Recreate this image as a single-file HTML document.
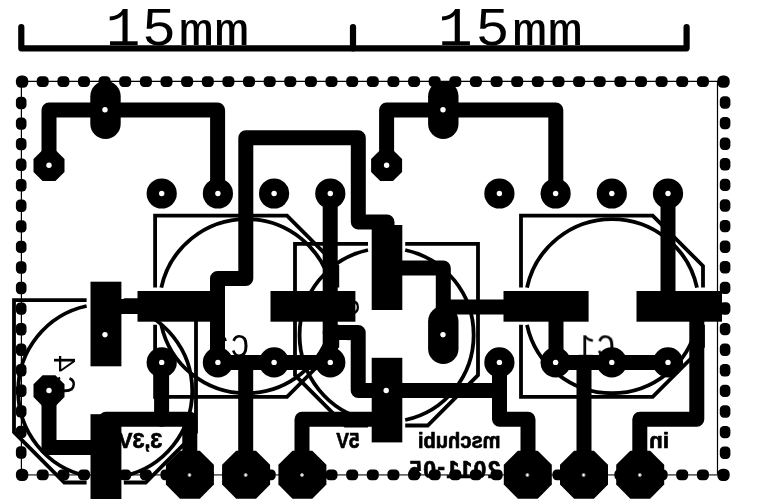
<!DOCTYPE html>
<html><head><meta charset="utf-8"><title>PCB</title>
<style>html,body{margin:0;padding:0;background:#fff}svg{display:block}
text{fill:#000}
.m{font-family:"Liberation Mono","DejaVu Sans Mono",monospace}
.b{font-family:"Liberation Sans","DejaVu Sans",sans-serif;font-weight:bold;stroke:#000;stroke-width:.7px;stroke-linejoin:round}
.g{opacity:.999}
</style></head><body>
<svg width="764" height="499" viewBox="0 0 764 499">
<rect width="764" height="499" fill="#fff"/>
<g fill="none" stroke="#000" stroke-width="6.2" stroke-linecap="round" stroke-linejoin="round">
<polyline points="21.3,27.0 21.3,48.3 686.6,48.3 686.6,27.0" />
<polyline points="353.0,27.0 353.0,48.3" />
</g>
<text class="m" y="45"><tspan x="105.5" font-size="54" textLength="35" lengthAdjust="spacingAndGlyphs">1</tspan><tspan x="142.0" font-size="54" textLength="34" lengthAdjust="spacingAndGlyphs">5</tspan><tspan x="178.5" font-size="47" textLength="71" lengthAdjust="spacingAndGlyphs">mm</tspan></text>
<text class="m" y="45"><tspan x="437.8" font-size="54" textLength="35" lengthAdjust="spacingAndGlyphs">1</tspan><tspan x="475.5" font-size="54" textLength="34" lengthAdjust="spacingAndGlyphs">5</tspan><tspan x="512.0" font-size="47" textLength="71" lengthAdjust="spacingAndGlyphs">mm</tspan></text>
<path d="M21.4 474.8V81.3H717.5V474.8" fill="none" stroke="#000" stroke-width="1.2"/>
<path d="M21.4 474.8H717.5" fill="none" stroke="#666" stroke-width="1.8"/>
<g fill="#000">
<rect x="15.9" y="75.6" width="12.4" height="12.2" rx="5.2"/>
<rect x="15.9" y="468.8" width="12.4" height="12.2" rx="5.2"/>
<rect x="36.7" y="76.2" width="12.0" height="10.8" rx="4.2"/>
<rect x="36.7" y="469.4" width="12.0" height="10.8" rx="4.2"/>
<rect x="57.4" y="76.2" width="12.0" height="10.8" rx="4.2"/>
<rect x="57.4" y="469.4" width="12.0" height="10.8" rx="4.2"/>
<rect x="78.0" y="76.2" width="12.0" height="10.8" rx="4.2"/>
<rect x="78.0" y="469.4" width="12.0" height="10.8" rx="4.2"/>
<rect x="98.6" y="76.2" width="12.0" height="10.8" rx="4.2"/>
<rect x="98.6" y="469.4" width="12.0" height="10.8" rx="4.2"/>
<rect x="119.2" y="76.2" width="12.0" height="10.8" rx="4.2"/>
<rect x="119.2" y="469.4" width="12.0" height="10.8" rx="4.2"/>
<rect x="139.9" y="76.2" width="12.0" height="10.8" rx="4.2"/>
<rect x="139.9" y="469.4" width="12.0" height="10.8" rx="4.2"/>
<rect x="160.5" y="76.2" width="12.0" height="10.8" rx="4.2"/>
<rect x="160.5" y="469.4" width="12.0" height="10.8" rx="4.2"/>
<rect x="181.1" y="76.2" width="12.0" height="10.8" rx="4.2"/>
<rect x="181.1" y="469.4" width="12.0" height="10.8" rx="4.2"/>
<rect x="201.8" y="76.2" width="12.0" height="10.8" rx="4.2"/>
<rect x="201.8" y="469.4" width="12.0" height="10.8" rx="4.2"/>
<rect x="222.4" y="76.2" width="12.0" height="10.8" rx="4.2"/>
<rect x="222.4" y="469.4" width="12.0" height="10.8" rx="4.2"/>
<rect x="243.0" y="76.2" width="12.0" height="10.8" rx="4.2"/>
<rect x="243.0" y="469.4" width="12.0" height="10.8" rx="4.2"/>
<rect x="263.7" y="76.2" width="12.0" height="10.8" rx="4.2"/>
<rect x="263.7" y="469.4" width="12.0" height="10.8" rx="4.2"/>
<rect x="284.3" y="76.2" width="12.0" height="10.8" rx="4.2"/>
<rect x="284.3" y="469.4" width="12.0" height="10.8" rx="4.2"/>
<rect x="304.9" y="76.2" width="12.0" height="10.8" rx="4.2"/>
<rect x="304.9" y="469.4" width="12.0" height="10.8" rx="4.2"/>
<rect x="325.5" y="76.2" width="12.0" height="10.8" rx="4.2"/>
<rect x="325.5" y="469.4" width="12.0" height="10.8" rx="4.2"/>
<rect x="346.2" y="76.2" width="12.0" height="10.8" rx="4.2"/>
<rect x="346.2" y="469.4" width="12.0" height="10.8" rx="4.2"/>
<rect x="366.8" y="76.2" width="12.0" height="10.8" rx="4.2"/>
<rect x="366.8" y="469.4" width="12.0" height="10.8" rx="4.2"/>
<rect x="387.4" y="76.2" width="12.0" height="10.8" rx="4.2"/>
<rect x="387.4" y="469.4" width="12.0" height="10.8" rx="4.2"/>
<rect x="408.1" y="76.2" width="12.0" height="10.8" rx="4.2"/>
<rect x="408.1" y="469.4" width="12.0" height="10.8" rx="4.2"/>
<rect x="428.7" y="76.2" width="12.0" height="10.8" rx="4.2"/>
<rect x="428.7" y="469.4" width="12.0" height="10.8" rx="4.2"/>
<rect x="449.3" y="76.2" width="12.0" height="10.8" rx="4.2"/>
<rect x="449.3" y="469.4" width="12.0" height="10.8" rx="4.2"/>
<rect x="469.9" y="76.2" width="12.0" height="10.8" rx="4.2"/>
<rect x="469.9" y="469.4" width="12.0" height="10.8" rx="4.2"/>
<rect x="490.6" y="76.2" width="12.0" height="10.8" rx="4.2"/>
<rect x="490.6" y="469.4" width="12.0" height="10.8" rx="4.2"/>
<rect x="511.2" y="76.2" width="12.0" height="10.8" rx="4.2"/>
<rect x="511.2" y="469.4" width="12.0" height="10.8" rx="4.2"/>
<rect x="531.8" y="76.2" width="12.0" height="10.8" rx="4.2"/>
<rect x="531.8" y="469.4" width="12.0" height="10.8" rx="4.2"/>
<rect x="552.5" y="76.2" width="12.0" height="10.8" rx="4.2"/>
<rect x="552.5" y="469.4" width="12.0" height="10.8" rx="4.2"/>
<rect x="573.1" y="76.2" width="12.0" height="10.8" rx="4.2"/>
<rect x="573.1" y="469.4" width="12.0" height="10.8" rx="4.2"/>
<rect x="593.7" y="76.2" width="12.0" height="10.8" rx="4.2"/>
<rect x="593.7" y="469.4" width="12.0" height="10.8" rx="4.2"/>
<rect x="614.4" y="76.2" width="12.0" height="10.8" rx="4.2"/>
<rect x="614.4" y="469.4" width="12.0" height="10.8" rx="4.2"/>
<rect x="635.0" y="76.2" width="12.0" height="10.8" rx="4.2"/>
<rect x="635.0" y="469.4" width="12.0" height="10.8" rx="4.2"/>
<rect x="655.6" y="76.2" width="12.0" height="10.8" rx="4.2"/>
<rect x="655.6" y="469.4" width="12.0" height="10.8" rx="4.2"/>
<rect x="676.2" y="76.2" width="12.0" height="10.8" rx="4.2"/>
<rect x="676.2" y="469.4" width="12.0" height="10.8" rx="4.2"/>
<rect x="696.9" y="76.2" width="12.0" height="10.8" rx="4.2"/>
<rect x="696.9" y="469.4" width="12.0" height="10.8" rx="4.2"/>
<rect x="717.3" y="75.6" width="12.4" height="12.2" rx="5.2"/>
<rect x="717.3" y="468.8" width="12.4" height="12.2" rx="5.2"/>
<rect x="15.9" y="96.8" width="10.6" height="12.4" rx="4.2"/>
<rect x="719.8" y="96.3" width="10.6" height="12.4" rx="4.2"/>
<rect x="15.9" y="117.4" width="10.6" height="12.4" rx="4.2"/>
<rect x="719.8" y="116.9" width="10.6" height="12.4" rx="4.2"/>
<rect x="15.9" y="137.9" width="10.6" height="12.4" rx="4.2"/>
<rect x="719.8" y="137.5" width="10.6" height="12.4" rx="4.2"/>
<rect x="15.9" y="158.5" width="10.6" height="12.4" rx="4.2"/>
<rect x="719.8" y="158.1" width="10.6" height="12.4" rx="4.2"/>
<rect x="15.9" y="179.0" width="10.6" height="12.4" rx="4.2"/>
<rect x="719.8" y="178.7" width="10.6" height="12.4" rx="4.2"/>
<rect x="15.9" y="199.6" width="10.6" height="12.4" rx="4.2"/>
<rect x="719.8" y="199.3" width="10.6" height="12.4" rx="4.2"/>
<rect x="15.9" y="220.2" width="10.6" height="12.4" rx="4.2"/>
<rect x="719.8" y="219.9" width="10.6" height="12.4" rx="4.2"/>
<rect x="15.9" y="240.7" width="10.6" height="12.4" rx="4.2"/>
<rect x="719.8" y="240.5" width="10.6" height="12.4" rx="4.2"/>
<rect x="15.9" y="261.3" width="10.6" height="12.4" rx="4.2"/>
<rect x="719.8" y="261.1" width="10.6" height="12.4" rx="4.2"/>
<rect x="15.9" y="281.8" width="10.6" height="12.4" rx="4.2"/>
<rect x="719.8" y="281.7" width="10.6" height="12.4" rx="4.2"/>
<rect x="15.9" y="302.4" width="10.6" height="12.4" rx="4.2"/>
<rect x="719.8" y="302.3" width="10.6" height="12.4" rx="4.2"/>
<rect x="15.9" y="323.0" width="10.6" height="12.4" rx="4.2"/>
<rect x="719.8" y="322.9" width="10.6" height="12.4" rx="4.2"/>
<rect x="15.9" y="343.5" width="10.6" height="12.4" rx="4.2"/>
<rect x="719.8" y="343.5" width="10.6" height="12.4" rx="4.2"/>
<rect x="15.9" y="364.1" width="10.6" height="12.4" rx="4.2"/>
<rect x="719.8" y="364.1" width="10.6" height="12.4" rx="4.2"/>
<rect x="15.9" y="384.6" width="10.6" height="12.4" rx="4.2"/>
<rect x="719.8" y="384.7" width="10.6" height="12.4" rx="4.2"/>
<rect x="15.9" y="405.2" width="10.6" height="12.4" rx="4.2"/>
<rect x="719.8" y="405.3" width="10.6" height="12.4" rx="4.2"/>
<rect x="15.9" y="425.8" width="10.6" height="12.4" rx="4.2"/>
<rect x="719.8" y="425.9" width="10.6" height="12.4" rx="4.2"/>
<rect x="15.9" y="446.3" width="10.6" height="12.4" rx="4.2"/>
<rect x="719.8" y="446.5" width="10.6" height="12.4" rx="4.2"/>
</g>
<g fill="none" stroke="#000" stroke-linejoin="miter">
<polyline points="155.1,287.6 155.1,215.7 287.0,215.7 337.3,266.0 337.3,287.6" stroke-width="3.8"/>
<polyline points="155.1,324.8 155.1,396.8 287.0,396.8 337.3,346.5 337.3,324.8" stroke-width="3.8"/>
<path d="M161.3 287.6A87 87 0 0 1 331.3 287.6" stroke-width="3.8"/>
<path d="M161.3 324.8A87 87 0 0 0 331.3 324.8" stroke-width="3.8"/>
<polyline points="521.0,287.6 521.0,215.7 652.7,215.7 703.0,266.0 703.0,287.6" stroke-width="3.8"/>
<polyline points="521.0,324.8 521.0,396.8 652.7,396.8 703.0,346.5 703.0,324.8" stroke-width="3.8"/>
<path d="M527.0 287.6A87 87 0 0 1 697.0 287.6" stroke-width="3.8"/>
<path d="M527.0 324.8A87 87 0 0 0 697.0 324.8" stroke-width="3.8"/>
<polyline points="368.0,243.8 295.0,243.8 295.0,375.2 345.3,425.5 368.0,425.5" stroke-width="3.8"/>
<polyline points="405.2,243.8 478.0,243.8 478.0,375.2 427.7,425.5 405.2,425.5" stroke-width="3.8"/>
<path d="M368.0 250.0A87 87 0 0 0 368.0 420.0" stroke-width="3.8"/>
<path d="M405.2 250.0A87 87 0 0 1 405.2 420.0" stroke-width="3.8"/>
<polyline points="86.6,300.2 14.0,300.2 14.0,432.2 64.3,482.5 86.6,482.5" stroke-width="3.8"/>
<polyline points="123.8,300.2 196.0,300.2 196.0,432.2 145.7,482.5 123.8,482.5" stroke-width="3.8"/>
<path d="M86.6 306.0A87 87 0 0 0 86.6 476.0" stroke-width="3.8"/>
<path d="M123.8 306.0A87 87 0 0 1 123.8 476.0" stroke-width="3.8"/>
</g>
<g class="g m" font-size="31">
<text transform="matrix(-1,0,0,1.1,615.2,357)">C<tspan dx="1.5">1</tspan></text>
<text transform="matrix(-1,0,0,1.1,249.3,357)">C<tspan dx="1.5">2</tspan></text>
<text transform="matrix(0,-1,-1,0,54,394)">C<tspan dx="2.4">4</tspan></text>
<text transform="matrix(0,-1,-1,0,338,342)">C<tspan dx="6.9">3</tspan></text>
</g>
<g fill="#000">
<rect x="137.5" y="291.0" width="84.6" height="30.7" />
<rect x="270.5" y="291.0" width="84.9" height="30.7" />
<rect x="503.5" y="291.0" width="85.1" height="30.7" />
<rect x="636.5" y="291.0" width="85.5" height="30.7" />
<rect x="90.5" y="281.7" width="30.9" height="84.6" />
<rect x="90.5" y="414.2" width="30.9" height="84.8" />
<rect x="371.7" y="225.0" width="30.6" height="85.0" />
<rect x="371.7" y="357.8" width="30.6" height="84.6" />
</g>
<g fill="none" stroke="#000" stroke-width="15" stroke-linecap="round" stroke-linejoin="round">
<polyline points="49.0,165.3 49.0,110.0 217.6,110.0 217.6,193.5" />
<polyline points="386.6,165.3 386.6,110.0 555.8,110.0 555.8,193.5" />
<polyline points="217.5,362.4 217.5,278.5 245.8,278.5 245.8,137.7 358.3,137.7 358.3,222.0 387.0,222.0 387.0,240.0" />
<polyline points="330.2,193.5 330.2,362.4" />
<polyline points="330.2,332.5 358.2,332.5 358.2,390.5 499.5,390.5" />
<polyline points="217.5,362.4 330.3,362.4" />
<polyline points="245.7,362.4 245.7,474.5" />
<polyline points="161.6,362.4 161.6,419.2" />
<polyline points="106.0,419.2 189.8,419.2 189.8,474.5" />
<polyline points="49.0,390.5 49.0,447.4 106.0,447.4" />
<polyline points="302.0,474.5 302.0,419.2 387.0,419.2" />
<polyline points="387.0,268.0 443.3,268.0 443.3,335.0" />
<polyline points="443.3,307.0 546.0,307.0" />
<polyline points="556.0,307.0 556.0,362.4" />
<polyline points="555.6,362.4 668.2,362.4" />
<polyline points="584.0,362.4 584.0,474.5" />
<polyline points="668.0,193.5 668.0,306.0" />
<polyline points="696.8,306.0 696.8,419.2 639.8,419.2 639.8,474.5" />
<polyline points="499.5,362.4 499.5,419.2 528.0,419.2 528.0,474.5" />
<polyline points="106.0,306.5 180.0,306.5" />
</g>
<g fill="#000">
<circle cx="161.7" cy="193.5" r="15.1"/>
<circle cx="161.7" cy="362.4" r="15.1"/>
<circle cx="217.9" cy="193.5" r="15.1"/>
<circle cx="217.9" cy="362.4" r="15.1"/>
<circle cx="274.1" cy="193.5" r="15.1"/>
<circle cx="274.1" cy="362.4" r="15.1"/>
<circle cx="330.3" cy="193.5" r="15.1"/>
<circle cx="330.3" cy="362.4" r="15.1"/>
<circle cx="499.4" cy="193.5" r="15.1"/>
<circle cx="499.4" cy="362.4" r="15.1"/>
<circle cx="555.6" cy="193.5" r="15.1"/>
<circle cx="555.6" cy="362.4" r="15.1"/>
<circle cx="611.8" cy="193.5" r="15.1"/>
<circle cx="611.8" cy="362.4" r="15.1"/>
<circle cx="668.0" cy="193.5" r="15.1"/>
<circle cx="668.0" cy="362.4" r="15.1"/>
<polygon points="42.6,150.0 55.4,150.0 64.5,159.1 64.5,171.9 55.4,181.0 42.6,181.0 33.5,171.9 33.5,159.1"/>
<polygon points="380.2,150.0 393.0,150.0 402.1,159.1 402.1,171.9 393.0,181.0 380.2,181.0 371.1,171.9 371.1,159.1"/>
<polygon points="42.6,375.2 55.4,375.2 64.5,384.3 64.5,397.1 55.4,406.2 42.6,406.2 33.5,397.1 33.5,384.3"/>
<rect x="90.3" y="81.0" width="30.4" height="58" rx="15.2"/>
<rect x="428.1" y="81.0" width="30.4" height="58" rx="15.2"/>
<rect x="428.1" y="306.0" width="30.4" height="58" rx="15.2"/>
<polygon points="180.0,450.7 199.8,450.7 213.9,464.8 213.9,484.6 199.8,498.7 180.0,498.7 165.9,484.6 165.9,464.8"/>
<polygon points="236.2,450.7 256.0,450.7 270.1,464.8 270.1,484.6 256.0,498.7 236.2,498.7 222.1,484.6 222.1,464.8"/>
<polygon points="292.5,450.7 312.3,450.7 326.4,464.8 326.4,484.6 312.3,498.7 292.5,498.7 278.4,484.6 278.4,464.8"/>
<polygon points="517.9,450.7 537.7,450.7 551.8,464.8 551.8,484.6 537.7,498.7 517.9,498.7 503.8,484.6 503.8,464.8"/>
<polygon points="574.1,450.7 593.9,450.7 608.0,464.8 608.0,484.6 593.9,498.7 574.1,498.7 560.0,484.6 560.0,464.8"/>
<polygon points="630.3,450.7 650.1,450.7 664.2,464.8 664.2,484.6 650.1,498.7 630.3,498.7 616.2,484.6 616.2,464.8"/>
</g>
<g fill="#fff">
<circle cx="161.7" cy="193.5" r="2.7"/>
<circle cx="161.7" cy="362.4" r="2.7"/>
<circle cx="217.9" cy="193.5" r="2.7"/>
<circle cx="217.9" cy="362.4" r="2.7"/>
<circle cx="274.1" cy="193.5" r="2.7"/>
<circle cx="274.1" cy="362.4" r="2.7"/>
<circle cx="330.3" cy="193.5" r="2.7"/>
<circle cx="330.3" cy="362.4" r="2.7"/>
<circle cx="499.4" cy="193.5" r="2.7"/>
<circle cx="499.4" cy="362.4" r="2.7"/>
<circle cx="555.6" cy="193.5" r="2.7"/>
<circle cx="555.6" cy="362.4" r="2.7"/>
<circle cx="611.8" cy="193.5" r="2.7"/>
<circle cx="611.8" cy="362.4" r="2.7"/>
<circle cx="668.0" cy="193.5" r="2.7"/>
<circle cx="668.0" cy="362.4" r="2.7"/>
<circle cx="49.0" cy="165.3" r="2.7"/>
<circle cx="386.6" cy="165.3" r="2.7"/>
<circle cx="49.0" cy="390.5" r="2.7"/>
<circle cx="105.0" cy="109.7" r="2.7"/>
<circle cx="443.0" cy="109.7" r="2.7"/>
<circle cx="443.0" cy="334.7" r="2.7"/>
<circle cx="105.0" cy="334.7" r="2.7"/>
<circle cx="386.2" cy="390.5" r="2.7"/>
<circle cx="189.5" cy="475.0" r="1.5" stroke="#999" stroke-width="1"/>
<circle cx="245.7" cy="475.0" r="1.5" stroke="#999" stroke-width="1"/>
<circle cx="302.0" cy="475.0" r="1.5" stroke="#999" stroke-width="1"/>
<circle cx="527.4" cy="475.0" r="1.5" stroke="#999" stroke-width="1"/>
<circle cx="583.6" cy="475.0" r="1.5" stroke="#999" stroke-width="1"/>
<circle cx="639.8" cy="475.0" r="1.5" stroke="#999" stroke-width="1"/>
</g>
<g class="g b">
<text transform="matrix(-1,0,0,1,162.3,448.0)" font-size="22" textLength="44.0" lengthAdjust="spacingAndGlyphs">3,3V</text>
<text transform="matrix(-1,0,0,1,359.5,448.0)" font-size="22" textLength="23.3" lengthAdjust="spacingAndGlyphs">5V</text>
<text transform="matrix(-1,0,0,1,500.5,448.3)" font-size="22" textLength="82.5" lengthAdjust="spacingAndGlyphs">mschubi</text>
<text transform="matrix(-1,0,0,1,500.5,477.5)" font-size="23" textLength="91.5" lengthAdjust="spacing">2011<tspan dy="-2.6">-</tspan><tspan dy="2.6">05</tspan></text>
<text transform="matrix(-1,0,0,1,669.0,447.7)" font-size="22" textLength="19.7" lengthAdjust="spacingAndGlyphs">in</text>
</g>
</svg></body></html>
